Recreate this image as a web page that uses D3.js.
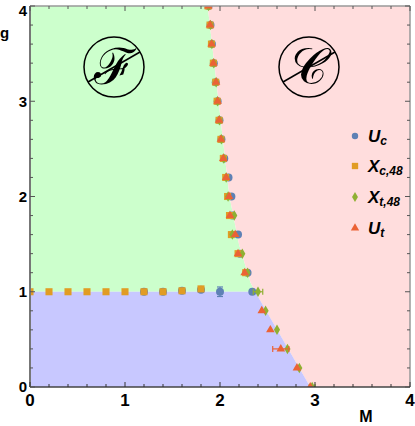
<!DOCTYPE html>
<html><head><meta charset="utf-8">
<script src="https://cdn.jsdelivr.net/npm/d3@7"></script>
<style>body{margin:0;background:#fff}svg text{font-family:"Liberation Sans",Arial,sans-serif}</style>
</head><body><svg id="c" width="415" height="426"></svg>
<script>
// ---- data ----
const xTicks = [0,1,2,3,4];
const yTicks = [0,1,2,3,4];
const gUpper = [4.0,3.8,3.6,3.4,3.2,3.0,2.8,2.6,2.4,2.2,2.0,1.8,1.6,1.4,1.2];
// U_c
const ucM = [1.88,1.90,1.915,1.935,1.955,1.975,1.995,2.015,2.045,2.09,2.12,2.13,2.19,2.21,2.29, 1.2,1.4,1.6,1.8,2.0,2.34];
const ucG = [...gUpper, 1,1,1.01,1.02,1.0,1.0];
const ucErrG = [0,0,0,0,0,0,0,0,0,0,0,0,0,0,0, 0,0,0,0,0.05,0];
// X_c,48
const xcM = [1.875,1.895,1.91,1.93,1.955,1.97,1.99,2.01,2.035,2.06,2.08,2.10,2.12,2.19,2.27, 0,0.2,0.4,0.6,0.8,1.0,1.2,1.4,1.6,1.8];
const xcG = [...gUpper, 1,1,1,1,1,1,1,1,1.01,1.03];
// X_t,48
const xtM = [1.88,1.90,1.915,1.935,1.96,1.975,1.995,2.015,2.04,2.065,2.085,2.15,2.13,2.235,2.29, 2.40,2.48,2.60,2.71,2.835,2.97];
const xtG = [...gUpper, 1.0,0.8,0.6,0.4,0.2,0.0];
const xtErrM = [0,0,0,0,0,0,0,0,0,0,0,0,0,0,0, 0.05,0,0,0,0,0.03];
// U_t
const utM = [1.877,1.895,1.912,1.93,1.958,1.975,1.99,2.01,2.035,2.065,2.095,2.105,2.16,2.19,2.26, 2.44,2.53,2.64,2.81,2.95];
const utG = [...gUpper, 0.8,0.6,0.4,0.2,0.0];
const utErrM = [0,0,0,0,0,0,0,0,0,0,0,0,0,0,0, 0,0,0.085,0,0];
// phase boundaries
const fcBoundM = [1.87,1.94,2.03,2.10,2.20,2.32,2.37];
const fcBoundG = [4.0,3.4,2.6,2.0,1.5,1.1,1.0];
const lowBoundM = [2.37,2.95];
const lowBoundG = [1.0,0.0];
const seriesNames = ["U","X","X","U"];
const seriesSubs = ["c","c,48","t,48","t"];
const colors = ["#5e81b5","#e19c24","#8fb032","#eb6235"];

// ---- chart ----
const svg = d3.select("#c");
const x = d3.scaleLinear().domain([0,4]).range([30,410]);
const y = d3.scaleLinear().domain([0,4]).range([387,6]);

svg.append("defs").append("clipPath").attr("id","clip").append("rect")
  .attr("x",x(0)).attr("y",y(4)).attr("width",x(4)-x(0)).attr("height",y(0)-y(4));

const pts = (ms,gs)=>ms.map((m,i)=>[x(m),y(gs[i])]);
const bnd = pts(fcBoundM,fcBoundG);
const low = pts(lowBoundM,lowBoundG);
const line = d3.line();
// green region
const greenPoly = [[x(0),y(1)],[x(0),y(4)],...bnd,[x(0),y(1)]];
svg.append("path").attr("d", line(greenPoly)+"Z").attr("fill","#ccffcc");
// pink region
const pinkPoly = [[x(4),y(4)],[x(4),y(0)],...low.slice().reverse(),...bnd.slice().reverse()];
svg.append("path").attr("d", line(pinkPoly)+"Z").attr("fill","#ffdddd");
// blue region
const bluePoly = [[x(0),y(0)],[x(0),y(1)],...low];
svg.append("path").attr("d", line(bluePoly)+"Z").attr("fill","#c8c8ff");

// symbols
const g = svg.append("g").attr("clip-path","url(#clip)");
function errBars(ms,gs,em,eg,col){
  ms.forEach((m,i)=>{
    if(em && em[i]>0){
      g.append("line").attr("x1",x(m-em[i])).attr("x2",x(m+em[i])).attr("y1",y(gs[i])).attr("y2",y(gs[i])).attr("stroke",col).attr("stroke-width",1.2);
      [m-em[i],m+em[i]].forEach(v=>g.append("line").attr("x1",x(v)).attr("x2",x(v)).attr("y1",y(gs[i])-3).attr("y2",y(gs[i])+3).attr("stroke",col).attr("stroke-width",1.2));
    }
    if(eg && eg[i]>0){
      g.append("line").attr("x1",x(m)).attr("x2",x(m)).attr("y1",y(gs[i]-eg[i])).attr("y2",y(gs[i]+eg[i])).attr("stroke",col).attr("stroke-width",1.2);
      [gs[i]-eg[i],gs[i]+eg[i]].forEach(v=>g.append("line").attr("x1",x(m)-3).attr("x2",x(m)+3).attr("y1",y(v)).attr("y2",y(v)).attr("stroke",col).attr("stroke-width",1.2));
    }
  });
}
function marks(ms,gs,type,size,col){
  g.selectAll(null).data(ms.map((m,i)=>[m,gs[i]])).join("path")
   .attr("transform",d=>`translate(${x(d[0])},${y(d[1])})`)
   .attr("d",d3.symbol().type(type).size(size)).attr("fill",col);
}
errBars(ucM,ucG,null,ucErrG,colors[0]);
marks(ucM,ucG,d3.symbolCircle,50,colors[0]);
marks(xcM,xcG,d3.symbolSquare,50,colors[1]);
errBars(xtM,xtG,xtErrM,null,colors[2]);
marks(xtM,xtG,d3.symbolDiamond,32,colors[2]);
errBars(utM,utG,utErrM,null,colors[3]);
marks(utM,utG,d3.symbolTriangle,32,colors[3]);

// frame
const fr = svg.append("g");
fr.append("line").attr("x1",x(0)).attr("x2",x(4)).attr("y1",y(4)).attr("y2",y(4)).attr("stroke","#999").attr("stroke-width",1.5);
fr.append("line").attr("x1",x(4)).attr("x2",x(4)).attr("y1",y(0)).attr("y2",y(4)).attr("stroke","#999").attr("stroke-width",1.5);
fr.append("line").attr("x1",x(0)).attr("x2",x(0)).attr("y1",y(0)).attr("y2",y(4)).attr("stroke","#777").attr("stroke-width",2);
fr.append("line").attr("x1",x(0)).attr("x2",x(4)).attr("y1",y(0)).attr("y2",y(0)).attr("stroke","#444").attr("stroke-width",1.5);
const minor = d3.range(0,4.001,0.2);
minor.forEach(v=>{
  const major = Math.abs(v-Math.round(v))<1e-6;
  const L = major?5:3;
  fr.append("line").attr("x1",x(v)).attr("x2",x(v)).attr("y1",y(0)).attr("y2",y(0)-L).attr("stroke","#333").attr("stroke-width",1);
  fr.append("line").attr("x1",x(v)).attr("x2",x(v)).attr("y1",y(4)).attr("y2",y(4)+L).attr("stroke","#555").attr("stroke-width",1);
  fr.append("line").attr("x1",x(0)).attr("x2",x(0)+L).attr("y1",y(v)).attr("y2",y(v)).attr("stroke","#555").attr("stroke-width",1);
  fr.append("line").attr("x1",x(4)).attr("x2",x(4)-L).attr("y1",y(v)).attr("y2",y(v)).attr("stroke","#555").attr("stroke-width",1);
});
// tick labels
svg.selectAll(null).data(xTicks).join("text").attr("x",d=>x(d)).attr("y",406)
  .attr("text-anchor","middle").attr("font-size",17).attr("font-weight","bold").text(d=>d);
svg.selectAll(null).data(yTicks).join("text").attr("x",27).attr("y",d=>Math.max(y(d)+5.4,16))
  .attr("text-anchor","end").attr("font-size",15).attr("font-weight","bold").text(d=>d);
svg.append("text").attr("x",0).attr("y",38).attr("font-size",15).attr("font-weight","bold").text("g");
svg.append("text").attr("x",366).attr("y",422).attr("text-anchor","middle").attr("font-size",16).attr("font-weight","bold").text("M");

// phase labels
function phaseMark(cx,cy,ch){
  svg.append("circle").attr("cx",cx).attr("cy",cy).attr("r",30).attr("fill","none").attr("stroke","#000").attr("stroke-width",1.5);
  svg.append("text").attr("x",cx).attr("y",cy+17).attr("text-anchor","middle")
    .style("font-family","'DejaVu Serif','Liberation Serif',serif").attr("font-size",50).text(ch);
  svg.append("line").attr("x1",cx-26).attr("y1",cy+15).attr("x2",cx+26).attr("y2",cy-15).attr("stroke","#000").attr("stroke-width",1.5);
}
phaseMark(114,67,"ℱ");
phaseMark(309,67,"𝒞");

// legend
const legY = [136,166,197,228];
const legTypes = [d3.symbolCircle,d3.symbolSquare,d3.symbolDiamond,d3.symbolTriangle];
const legSizes = [32,40,30,30];
legY.forEach((ly,i)=>{
  svg.append("path").attr("transform",`translate(355,${ly})`).attr("d",d3.symbol().type(legTypes[i]).size(legSizes[i])).attr("fill",colors[i]);
  const t = svg.append("text").attr("x",368).attr("y",ly+6).attr("font-weight","bold").attr("font-style","italic").attr("font-size",17);
  t.append("tspan").text(seriesNames[i]);
  t.append("tspan").attr("font-size",12).attr("dy",3).text(seriesSubs[i]);
});
</script></body></html>
